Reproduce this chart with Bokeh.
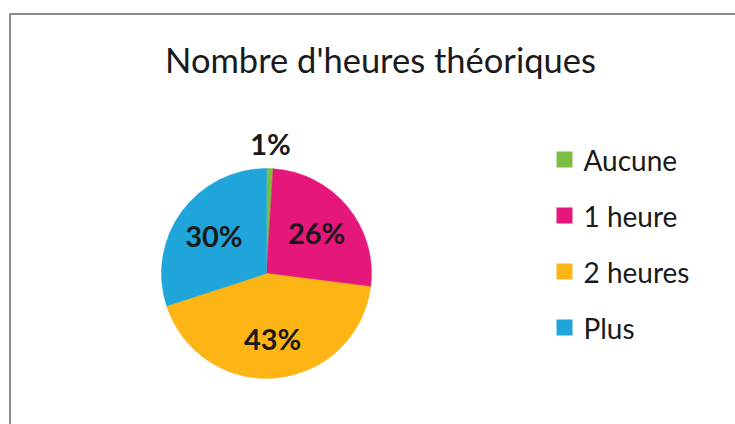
import math
from bokeh.plotting import figure
from bokeh.models import Range1d
from bokeh.core.properties import value
from bokeh.embed import file_html
from bokeh.resources import INLINE

# Data
categories = ["Aucune", "1 heure", "2 heures", "Plus"]
percentages = [1, 26, 43, 30]
colors = ["#7CBD42", "#E5177B", "#FDB515", "#1FA5D9"]
title_text = "Nombre d'heures théoriques"

# Layout (screen pixel coordinates)
W, H = 735, 424


def sy(y):
    return H - y  # convert screen y to data y (up)


p = figure(width=W, height=H, output_backend="svg", toolbar_location=None,
           x_range=Range1d(0, W), y_range=Range1d(0, H),
           x_axis_type=None, y_axis_type=None, min_border=0)
p.outline_line_color = None
p.grid.visible = False
p.background_fill_color = "white"
p.border_fill_color = "white"

FONT = value("Lato")

# Chart border (extends beyond right/bottom edges)
p.quad(left=[9.5], right=[800], top=[sy(13.5)], bottom=[-50],
       fill_color=None, line_color="#8C8C8C", line_width=2)

# Title
p.text(x=[380], y=[sy(59)], text=[title_text], text_font=FONT,
       text_font_size="34.5px", text_color="#1a1a1a",
       text_align="center", text_baseline="middle")

# Pie
cx, cy, r = 266, 273, 105
total = sum(percentages)
starts, ends, mids = [], [], []
cum = 0.0
for v in percentages:
    a0 = cum / total
    cum += v
    a1 = cum / total
    # clockwise from 12 o'clock
    starts.append(math.pi / 2 - 2 * math.pi * a1)
    ends.append(math.pi / 2 - 2 * math.pi * a0)
    mids.append(math.pi / 2 - 2 * math.pi * (a0 + a1) / 2)

p.wedge(x=[cx] * 4, y=[sy(cy)] * 4, radius=r, start_angle=starts,
        end_angle=ends, fill_color=colors, line_color=colors, line_width=0.5)

# Data labels
radial = [1.24 if v < 5 else 0.62 for v in percentages]
lx = [cx + r * f * math.cos(m) for f, m in zip(radial, mids)]
ly = [sy(cy) + r * f * math.sin(m) for f, m in zip(radial, mids)]
p.text(x=lx, y=ly, text=[f"{v}%" for v in percentages], text_font=FONT,
       text_font_style="bold", text_font_size="29px", text_color="#1a1a1a",
       text_align="center", text_baseline="middle")

# Legend
leg_x, leg_y0, leg_dy = 564, 159, 56
ys = [sy(leg_y0 + i * leg_dy) for i in range(len(categories))]
p.rect(x=[leg_x] * len(categories), y=ys, width=16, height=16,
       fill_color=colors, line_color=None)
p.text(x=[leg_x + 19] * len(categories), y=ys, text=categories,
       text_font=FONT, text_font_size="28px", text_color="#1a1a1a",
       text_align="left", text_baseline="middle")

open("out.html", "w").write(file_html(p, INLINE))
